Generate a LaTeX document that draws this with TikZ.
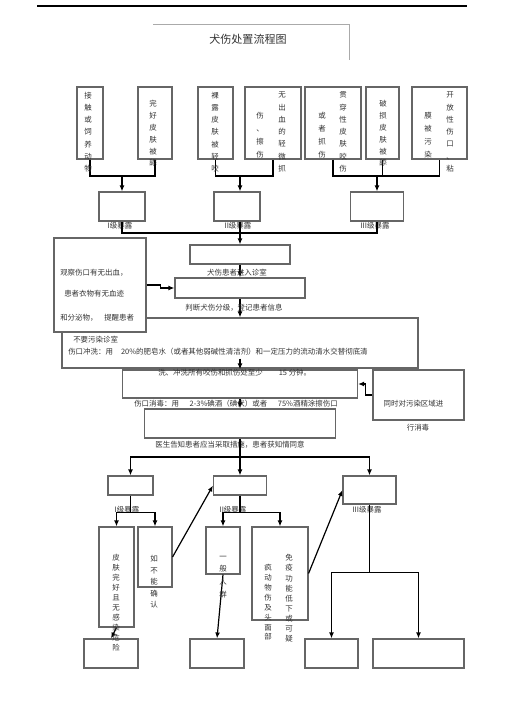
\documentclass[tikz,border=0pt]{standalone}
\usepackage{fontspec}
\newfontfamily\cjk{Noto Sans CJK SC}
\usetikzlibrary{arrows.meta}
\newdimen\px \px=0.75pt
\definecolor{boxgray}{HTML}{666666}
\definecolor{txt}{HTML}{333333}
\definecolor{framegray}{HTML}{AAAAAA}
\begin{document}
\begin{tikzpicture}[x=0.75pt,y=-0.75pt,
  box/.style={draw=boxgray, line width=0.8pt, inner sep=0, fill=white},
  conn/.style={draw=black, line width=0.9pt},
  arr/.style={conn, -{Latex[length=4.5pt,width=3.6pt]}},
  lab/.style={font=\cjk\fontsize{5.6}{6.7}\selectfont, inner sep=0, text=txt},
  vcol/.style={font=\cjk\fontsize{5.6}{#1}\selectfont, align=center, inner sep=0, text=txt},
]
\fill[white] (0,0) rectangle (505,714);
\useasboundingbox (0,0) rectangle (505,714);

% header
\draw[line width=0.9pt] (37,6) coordinate (hl) -- (467,6) coordinate (hr);
\draw[framegray, line width=0.6pt] (153,24) coordinate (fa) -- (349,24) coordinate (fb) -- (349,60) coordinate (fc);
\node[font=\cjk\fontsize{8.3}{10}\selectfont, text=txt, inner sep=0] (title) at (248,39) {犬伤处置流程图};

% top row boxes
\node[box, minimum width=26\px, minimum height=72\px] (t1) at (90,123) {};
\node[box, minimum width=34\px, minimum height=72\px] (t2) at (155,123) {};
\node[box, minimum width=35\px, minimum height=72\px] (t3) at (215.5,123) {};
\node[box, minimum width=56\px, minimum height=72\px] (t4) at (273,123) {};
\node[box, minimum width=56\px, minimum height=72\px] (t5) at (333,123) {};
\node[box, minimum width=33\px, minimum height=72\px] (t6) at (382.5,123) {};
\node[box, minimum width=55\px, minimum height=72\px] (t7) at (439.5,123) {};

% exposure boxes row 1
\node[box, minimum width=46\px, minimum height=29\px] (e1) at (122,206.5) {};
\node[box, minimum width=46\px, minimum height=29\px] (e2) at (237,206.5) {};
\node[box, minimum width=53\px, minimum height=29\px] (e3) at (377,206.5) {};

\coordinate (j1) at (122,176);
\coordinate (j2) at (240,176);
\coordinate (j3) at (377,176);
\draw[conn] (t1.south) -- (t1.south |- j1) -| (t2.south);
\draw[arr] (j1) -- (e1.north);
\draw[conn] (t3.south) -- (t3.south |- j2) -| (t4.south);
\draw[arr] (j2) -- (j2 |- e2.north);
\draw[conn] (t5.south) -- (t5.south |- j3) -| (t7.south);
\draw[conn] (t6.south) -- (t6.south |- j3);
\draw[arr] (j3) -- (e3.north);

% vertical texts top row
\node[vcol=9.2] (c1) at (88,132) {接\\触\\或\\饲\\养\\动\\物};
\node[vcol=8.85] (c2) at (153,133.5) {完\\好\\皮\\肤\\被\\舔};
\node[vcol=9.2] (c3) at (215,132) {裸\\露\\皮\\肤\\被\\轻\\咬};
\node[vcol=9.75] (c4a) at (260,135.5) {伤\\、\\擦\\伤};
\node[vcol=9.2] (c4b) at (282,132) {无\\出\\血\\的\\轻\\微\\抓};
\node[vcol=9.75] (c5a) at (322,135.5) {或\\者\\抓\\伤};
\node[vcol=9.2] (c5b) at (343,132) {贯\\穿\\性\\皮\\肤\\咬\\伤};
\node[vcol=8.85] (c6) at (383,133.5) {破\\损\\皮\\肤\\被\\舔};
\node[vcol=9.75] (c7a) at (428,135.5) {膜\\被\\污\\染};
\node[vcol=9.2] (c7b) at (450,132) {开\\放\\性\\伤\\口\\、\\粘};

\node[lab] (le1) at (120,226) {I级暴露};
\node[lab] (le2) at (238,226) {II级暴露};
\node[lab] (le3) at (375,226) {III级暴露};

% middle process
\node[box, minimum width=100\px, minimum height=19\px] (n1) at (240,254.5) {};
\node[box, minimum width=130\px, minimum height=20\px] (n2) at (240,288) {};
\node[box, minimum width=356\px, minimum height=50\px] (w1) at (240,343) {};
\node[box, minimum width=92\px, minimum height=94\px] (ob) at (100,285) {};
\node[box, minimum width=235\px, minimum height=28\px] (w2) at (240,384) {};
\node[box, minimum width=91\px, minimum height=50\px] (rb) at (418.5,395) {};
\node[box, minimum width=191\px, minimum height=29\px] (w3) at (240,423.5) {};

\coordinate (k) at (377,233);
\draw[conn] (e1.south) |- (k) -- (e3.south);
\draw[arr] (j2 |- e2.south) -- (n1.north);
\draw[arr] (n1.south) -- (n2.north);
\draw[arr] (ob.east) -- ++(14,0) |- (n2.west);
\draw[arr] (n2.south) -- (w1.north);
\draw[arr] (w1.south) ++(0,-10) -- (w2.north);
\draw[arr] (rb.west) -- ++(-7,0) |- (w2.east);
\draw[arr] (w2.south) -- (w3.north);

\node[lab] (ln1) at (237,273) {犬伤患者进入诊室};
\node[lab] (ln2) at (234,308) {判断犬伤分级，登记患者信息};
\node[lab, anchor=west] (o1) at (60,273) {观察伤口有无出血，};
\node[lab, anchor=west] (o2) at (64,294) {患者衣物有无血迹};
\node[lab, anchor=west] (o3) at (60,318) {和分泌物，\hspace{5pt}提醒患者};
\node[lab, anchor=west] (o4) at (73,340) {不要污染诊室};
\node[lab, anchor=west] (lw1) at (68,352) {伤口冲洗：用\hspace{6pt}20\%的肥皂水（或者其他弱碱性清洁剂）和一定压力的流动清水交替彻底清};
\node[lab, anchor=west] (lw2) at (158,373) {洗、冲洗所有咬伤和抓伤处至少\hspace{12pt}15 分钟。};
\node[lab, anchor=west] (lw3) at (134,404) {伤口消毒：用\hspace{8pt}2-3\%碘酒（碘伏）或者\hspace{8pt}75\%酒精涂擦伤口};
\node[lab] (lr1) at (413.5,404) {同时对污染区域进};
\node[lab] (lr2) at (418,428) {行消毒};
\node[lab] (lw4) at (230,445) {医生告知患者应当采取措施，患者获知情同意};

% second exposure row
\node[box, minimum width=45\px, minimum height=19\px] (f1) at (130.5,485.5) {};
\node[box, minimum width=53\px, minimum height=19\px] (f2) at (240,485.5) {};
\node[box, minimum width=53\px, minimum height=28\px] (f3) at (369.5,490) {};
\coordinate (m) at (240,457);
\draw[conn] (w3.south) -- (m);
\draw[arr] (m) -- (f2.north);
\draw[arr] (m) -| (f1.north);
\draw[arr] (m) -| (f3.north);
\node[lab] (lf1) at (127,510) {I级暴露};
\node[lab] (lf2) at (233,510) {II级暴露};
\node[lab] (lf3) at (367,510) {III级暴露};

% lower boxes
\node[box, minimum width=35\px, minimum height=100\px] (g1) at (116.5,577) {};
\node[box, minimum width=34\px, minimum height=60\px] (g2) at (155,557) {};
\node[box, minimum width=34\px, minimum height=47\px] (g3) at (223,550.5) {};
\node[box, minimum width=56\px, minimum height=93\px] (g4) at (280,573.5) {};
\node[box, minimum width=54\px, minimum height=29\px] (h1) at (111,653.5) {};
\node[box, minimum width=54\px, minimum height=29\px] (h2) at (217,653.5) {};
\node[box, minimum width=53\px, minimum height=29\px] (h3) at (331.5,653.5) {};
\node[box, minimum width=91\px, minimum height=29\px] (h4) at (418.5,653.5) {};

\draw[conn] (f1.south) -- ++(0,17) coordinate (p1);
\draw[arr] (p1) -| (g1.north);
\draw[arr] (p1) -| (g2.north);
\draw[conn] (f2.south) -- ++(0,17) coordinate (p2);
\draw[arr] (p2) -| (g3.north);
\draw[arr] (p2) -| (g4.north);
\draw[conn] (f3.south) -- ++(0,68) coordinate (p3);
\draw[arr] (p3) -| (h3.north);
\draw[arr] (p3) -| (h4.north);
\draw[arr] (g2.east) -- (f2.west);
\draw[arr] (g4.east) -- (f3.west);
\draw[arr] (g1.south) -- (h1.north);
\draw[arr] (g3.south) -- (h2.north);

\node[vcol=7.5] (v1) at (116,603) {皮\\肤\\完\\好\\且\\无\\感\\染\\危\\险};
\node[vcol=8.6] (v2) at (154,582) {如\\不\\能\\确\\认};
\node[vcol=9.5] (v3) at (223,577) {一\\般\\人\\群};
\node[vcol=7.4] (v4a) at (268,602.5) {疯\\动\\物\\伤\\及\\头\\面\\部};
\node[vcol=7.6] (v4b) at (289,598.5) {免\\疫\\功\\能\\低\\下\\或\\可\\疑};
\end{tikzpicture}
\end{document}
